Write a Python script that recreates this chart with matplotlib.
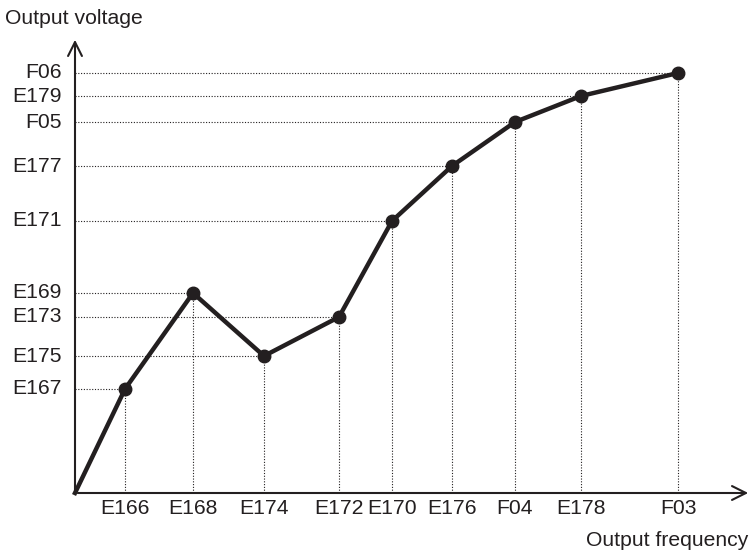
import matplotlib.pyplot as plt

plt.rcParams['font.family'] = ['Liberation Sans', 'DejaVu Sans']

# frequency parameters (x) and voltage parameters (y), in drawing units from origin
freq_labels = ["E166", "E168", "E174", "E172", "E170", "E176", "F04", "E178", "F03"]
freq_pos = [50, 118, 189, 264, 317, 377, 440, 506, 603]
volt_labels = ["E167", "E169", "E175", "E173", "E171", "E177", "F05", "E179", "F06"]
volt_pos = [104, 200, 137, 176, 272, 327, 371, 397, 420]

ink = "#231f20"
fs = 15.2

fig = plt.figure(figsize=(7.55, 5.53), dpi=100)
ax = fig.add_axes([0, 0, 1, 1])
ax.set_xlim(-75, 680)
ax.set_ylim(-60, 493)
ax.set_axis_off()

# dotted guide lines
for x, y in zip(freq_pos, volt_pos):
    ax.plot([x, x], [0, y], linestyle=(0, (1, 1.5)), color=ink, lw=0.8, zorder=1)
    ax.plot([0, x], [y, y], linestyle=(0, (1, 1.5)), color=ink, lw=0.8, zorder=1)

# axes with arrows
ax.annotate("", xy=(676, 0), xytext=(0, 0),
            arrowprops=dict(arrowstyle="->", color=ink, lw=1.5, mutation_scale=25))
ax.annotate("", xy=(0, 456), xytext=(0, 0),
            arrowprops=dict(arrowstyle="->", color=ink, lw=1.5, mutation_scale=25))

# V/f curve
ax.plot([0] + freq_pos, [0] + volt_pos, color=ink, lw=3.2, marker="o", markersize=9,
        markevery=list(range(1, len(freq_pos) + 1)), solid_joinstyle="miter", zorder=3)

for lab, x in zip(freq_labels, freq_pos):
    ax.text(x, -15, lab, ha="center", va="center", fontsize=fs, color=ink)
for lab, y in zip(volt_labels, volt_pos):
    ax.text(-13, y, lab, ha="right", va="center", fontsize=fs, color=ink)

ax.text(-70, 474, "Output voltage", ha="left", va="center", fontsize=fs, color=ink)
ax.text(673, -47, "Output frequency", ha="right", va="center", fontsize=fs, color=ink)

fig.savefig("out.png", dpi=100)
